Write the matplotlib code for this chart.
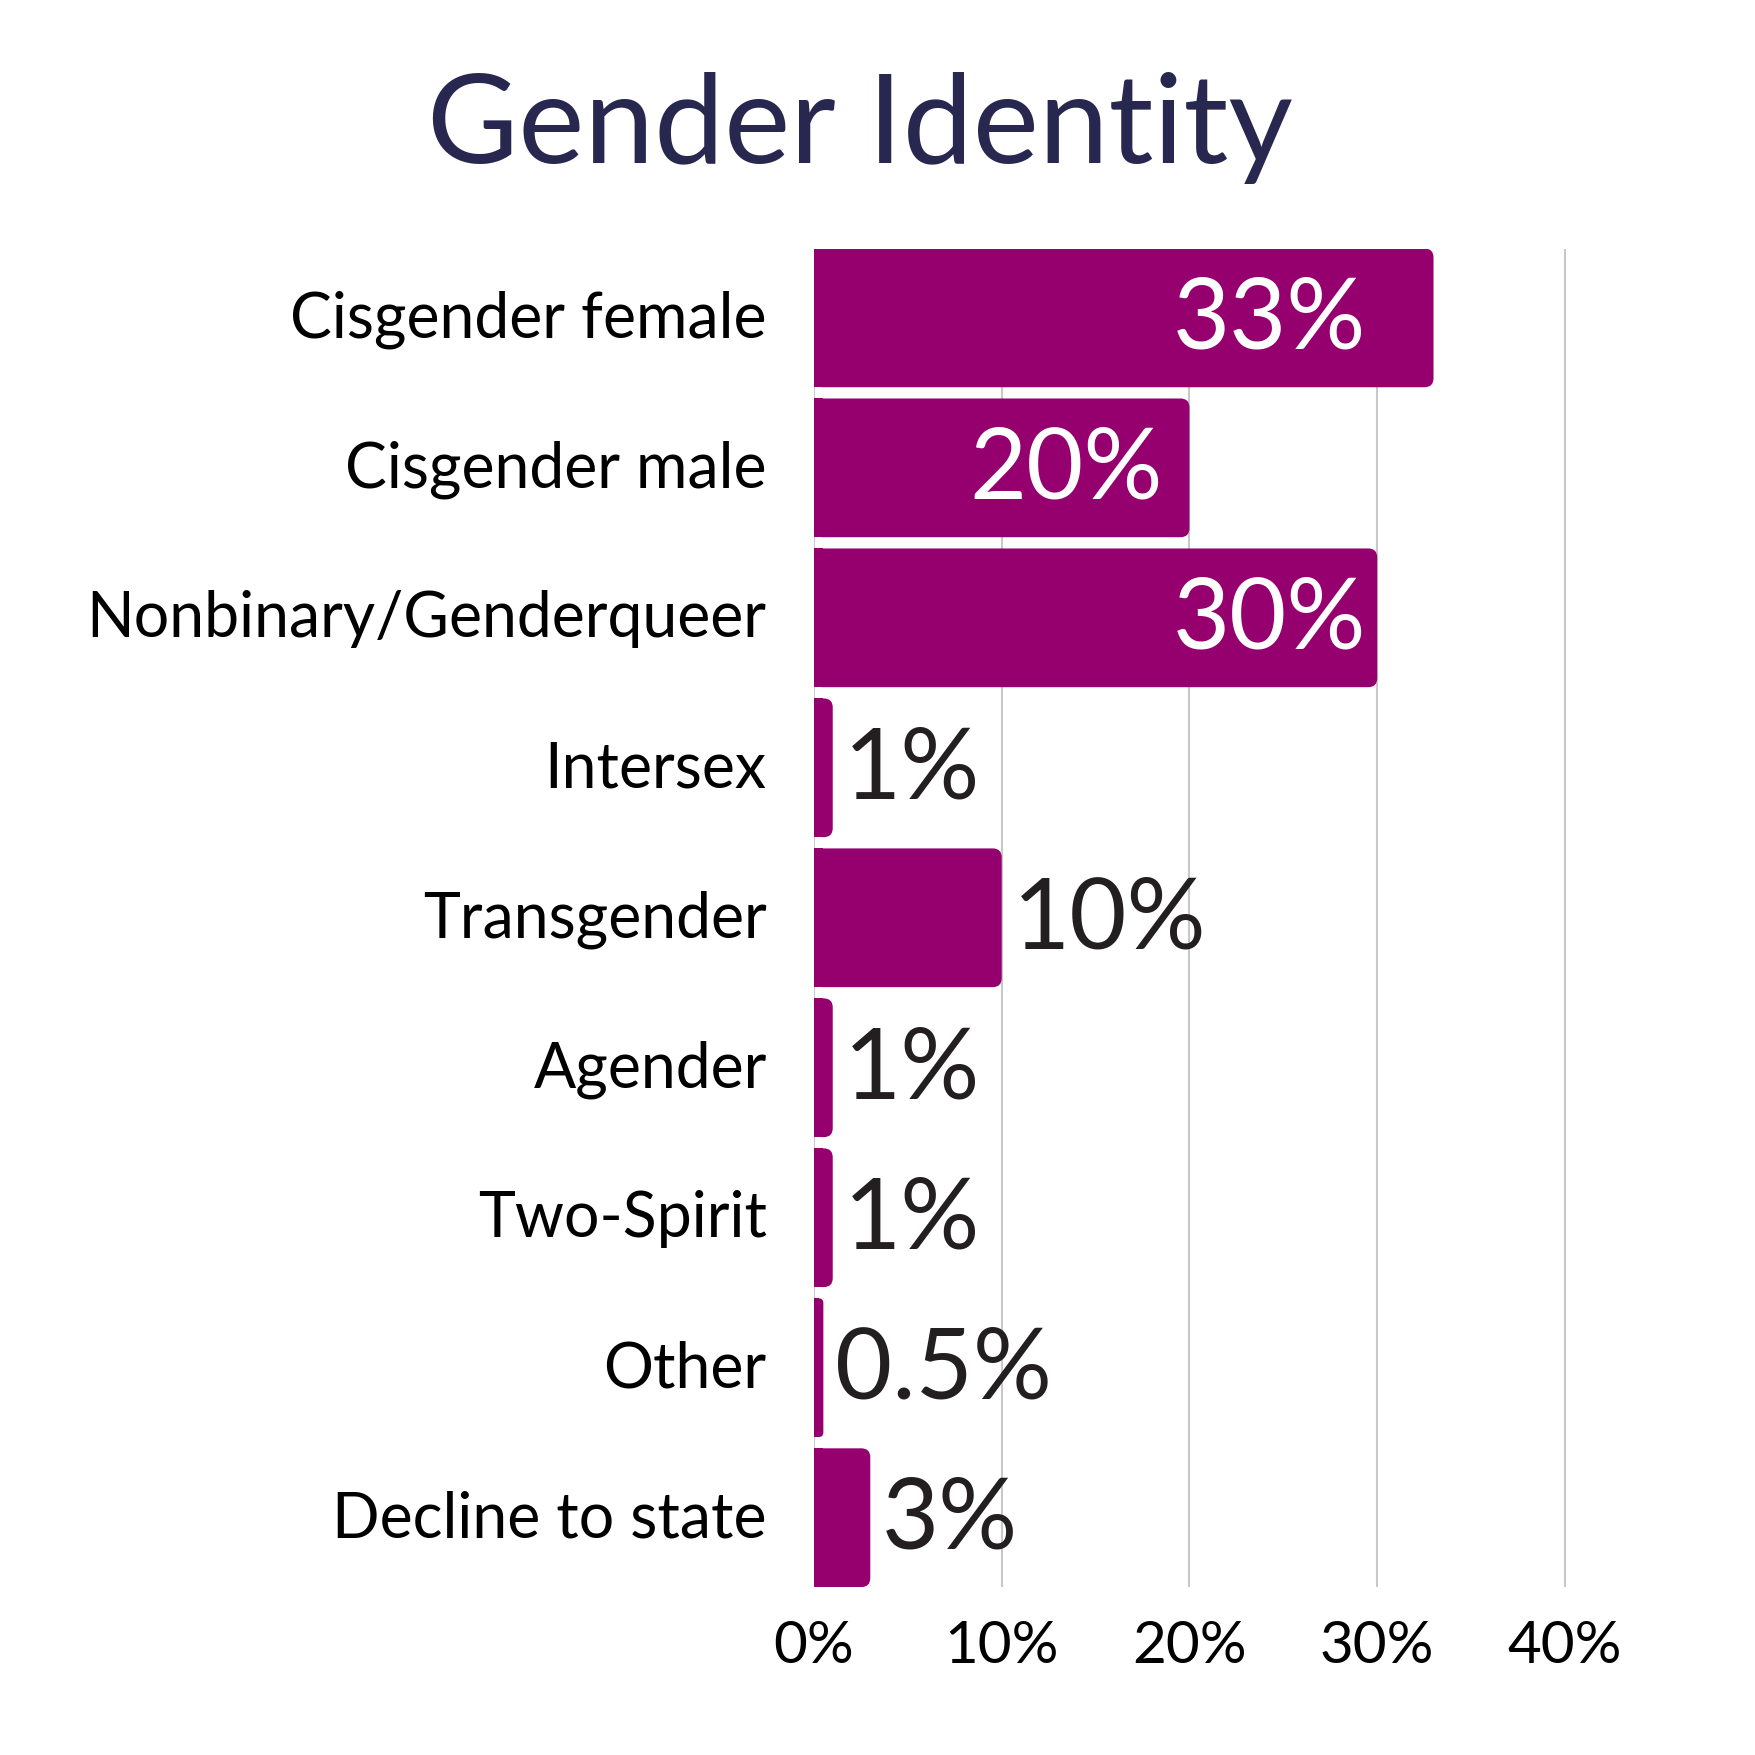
import matplotlib
matplotlib.use("Agg")
import matplotlib.pyplot as plt
from matplotlib.patches import FancyBboxPatch, Rectangle
from matplotlib.transforms import ScaledTranslation

# data
categories = ["Cisgender female", "Cisgender male", "Nonbinary/Genderqueer",
              "Intersex", "Transgender", "Agender", "Two-Spirit", "Other",
              "Decline to state"]
values = [33, 20, 30, 1, 10, 1, 1, 0.5, 3]
value_labels = ["33%", "20%", "30%", "1%", "10%", "1%", "1%", "0.5%", "3%"]
ticks = [0, 10, 20, 30, 40]
tick_labels = ["0%", "10%", "20%", "30%", "40%"]

BAR = "#95006E"
TITLE = "#27274F"
TEXT = "#231F20"
GRID = "#C8C8C8"
FONT = "Lato"

plt.rcParams['font.family'] = [FONT, 'DejaVu Sans']

fig = plt.figure(figsize=(17.55, 17.55), dpi=100)
ax = fig.add_axes([0.4638, 0.0957, 0.46, 0.7627])

bar_h = 0.925
n = len(categories)
ypos = list(range(n))
ax.set_xlim(0, 43)
ax.set_ylim(n - 1 + bar_h / 2, -bar_h / 2)

bars = ax.barh(ypos, values, height=bar_h, color=BAR, zorder=2)

# rounded right-hand corners, square left edge
fig.canvas.draw()
bb = ax.get_window_extent()
px_x = bb.width / 43
px_y = bb.height / (n - 1 + bar_h)
r_px = 9
rx = r_px / px_x
aspect = px_x / px_y
for b in bars:
    x0, y0 = b.get_x(), b.get_y()
    w, h = b.get_width(), b.get_height()
    b.set_visible(False)
    ax.add_patch(FancyBboxPatch((x0, y0), w, h,
                                boxstyle="round,pad=0,rounding_size=%f" % min(rx, w / 2),
                                mutation_aspect=aspect, facecolor=BAR,
                                edgecolor="none", zorder=2))
    ax.add_patch(Rectangle((x0, y0), min(w / 2, rx), h, facecolor=BAR,
                           edgecolor="none", zorder=2))

for i, (v, lab) in enumerate(zip(values, value_labels)):
    if v >= 15:
        xt = v - 1.4 if v < 25 else 29.4
        ax.text(xt, i + 0.02, lab, ha="right", va="center",
                color="white", fontsize=71, zorder=3)
    else:
        ax.text(v + 0.6, i + 0.02, lab, ha="left", va="center",
                color=TEXT, fontsize=71, zorder=3)

ax.set_xticks(ticks)
ax.set_xticklabels(tick_labels)
ax.set_yticks(ypos)
ax.set_yticklabels(categories)
ax.tick_params(axis="x", length=0, pad=24, labelsize=42, labelcolor="black")
ax.tick_params(axis="y", length=0, pad=34, labelsize=45, labelcolor="black")
shift = ScaledTranslation(0, 0.04, fig.dpi_scale_trans)
for t in ax.get_yticklabels():
    t.set_transform(t.get_transform() + shift)
ax.grid(axis="x", color=GRID, linewidth=1.5, zorder=0)
ax.set_axisbelow(True)
for s in ax.spines.values():
    s.set_visible(False)

fig.text(0.49, 0.927, "Gender Identity", ha="center", va="center",
         color=TITLE, fontsize=90)

fig.savefig("out.png", dpi=100, facecolor="white")
